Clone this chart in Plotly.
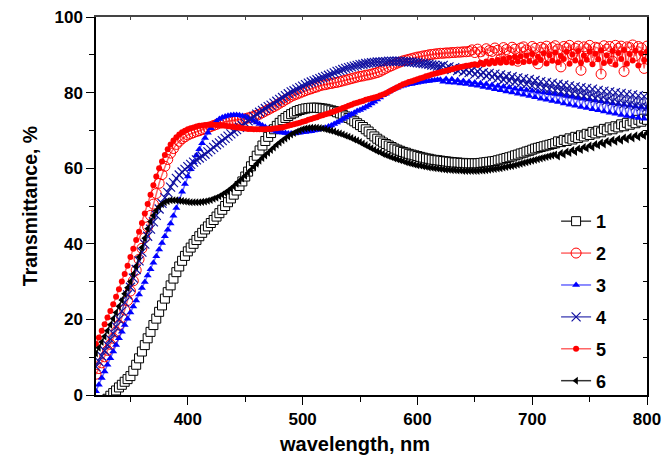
import plotly.graph_objects as go

# wavelength grid, nm (2.5 nm spacing, as in the measured spectra)
wavelength = [320 + 2.5 * i for i in range(193)]

s1 = [-4, -3.2, -2.5, -1.8, -1, -0.2, 0.5, 1.2, 2, 2.7,
      3.5, 4.2, 5, 6.4, 8, 9.7, 11.5, 13.2, 15, 16.7,
      18.5, 20.2, 22, 23.7, 25.5, 27.2, 29, 30.8, 32.5, 34,
      35.5, 36.8, 38, 39, 40, 41, 42, 42.9, 43.8, 44.6,
      45.5, 46.3, 47.2, 48.1, 49, 50, 51, 52, 53, 54.1,
      55.3, 56.5, 57.8, 59.1, 60.5, 61.9, 63.3, 64.7, 66, 67.2,
      68.3, 69.3, 70.3, 71.2, 72, 72.7, 73.3, 73.8, 74.3, 74.7,
      75.1, 75.4, 75.6, 75.8, 75.9, 76, 76, 76, 75.9, 75.8,
      75.7, 75.5, 75.3, 75.1, 74.8, 74.5, 74.1, 73.7, 73.3, 72.9,
      72.4, 71.9, 71.4, 70.9, 70.3, 69.7, 69, 68.4, 67.8, 67.3,
      66.8, 66.4, 66, 65.6, 65.2, 64.9, 64.6, 64.3, 64.1, 63.8,
      63.6, 63.4, 63.2, 63, 62.8, 62.6, 62.5, 62.3, 62.2, 62.1,
      62, 61.9, 61.8, 61.7, 61.6, 61.5, 61.5, 61.4, 61.4, 61.3,
      61.3, 61.3, 61.3, 61.3, 61.4, 61.5, 61.6, 61.7, 61.8, 61.9,
      62.1, 62.3, 62.5, 62.7, 62.9, 63.1, 63.4, 63.6, 63.9, 64.1,
      64.4, 64.6, 64.9, 65.2, 65.4, 65.6, 65.8, 66, 66.2, 66.4,
      66.6, 67.1, 66.9, 67.5, 67.2, 67.9, 67.6, 68.3, 68, 68.7,
      68.4, 69.1, 68.8, 69.6, 69.2, 69.9, 69.5, 70.4, 70, 70.8,
      70.3, 71.1, 70.8, 71.6, 71.1, 72, 71.5, 72.4, 71.9, 72.8,
      72.3, 73.1, 72.8]

s2 = [5.5, 7, 8.5, 10.1, 11.8, 13.4, 15, 16.7, 18.5, 20.5,
      22.5, 25, 27.5, 30.2, 33, 35.9, 38.8, 41.6, 44.5, 47.5,
      50.5, 53.3, 56, 58.3, 60.5, 62.3, 64, 65.2, 66.3, 67.1,
      67.8, 68.3, 68.8, 69.1, 69.4, 69.7, 69.9, 70.2, 70.4, 70.7,
      71, 71.3, 71.6, 71.9, 72.1, 72.3, 72.4, 72.5, 72.6, 72.7,
      72.8, 72.9, 73.1, 73.3, 73.5, 73.7, 74, 74.3, 74.7, 75.1,
      75.5, 75.9, 76.3, 76.7, 77.2, 77.6, 78.1, 78.5, 79, 79.3,
      79.6, 79.9, 80.2, 80.5, 80.8, 81, 81.3, 81.5, 81.8, 82,
      82.1, 82.3, 82.4, 82.6, 82.7, 82.9, 83.1, 83.3, 83.5, 83.7,
      83.9, 84.1, 84.3, 84.4, 84.6, 84.7, 84.9, 85.1, 85.3, 85.6,
      86, 86.4, 86.8, 87.1, 87.5, 87.8, 88.1, 88.4, 88.6, 88.8,
      89, 89.2, 89.4, 89.5, 89.7, 89.8, 90, 90.1, 90.2, 90.3,
      90.4, 90.4, 90.5, 90.5, 90.6, 90.6, 90.7, 90.7, 90.8, 90.8,
      90.9, 91.3, 90.6, 91.5, 90.8, 89.6, 91.6, 91.1, 90.9, 91.8,
      91.2, 88.9, 91.9, 91.4, 90.7, 92, 91.5, 88.3, 91.8, 92.1,
      91.3, 90.2, 92.2, 91.7, 87.6, 92, 91.6, 92.3, 89.4, 91.9,
      92.4, 91.5, 86.8, 92.2, 91.8, 92.5, 90.1, 91.7, 92.3, 85.9,
      92.1, 91.6, 92.5, 89.2, 92, 91.8, 84.9, 92.4, 91.5, 92.2,
      88.3, 92.5, 91.7, 92.3, 85.6, 92.1, 91.9, 92.6, 89.7, 92.2,
      91.8, 86.4, 92.3]

s3 = [1, 2.7, 4.5, 6.2, 8, 9.7, 11.5, 13.2, 15, 16.7,
      18.5, 20.2, 21.8, 23.4, 25, 26.6, 28.3, 29.9, 31.6, 33.3,
      35, 36.7, 38.5, 40.2, 42, 43.7, 45.4, 47.4, 49.5, 51.6,
      53.8, 55.8, 57.8, 59.7, 61.6, 63.4, 65, 66.6, 68, 69.4,
      70.6, 71.6, 72.4, 73, 73.4, 73.7, 73.9, 74, 74.1, 74.1,
      74, 73.8, 73.6, 73.3, 72.9, 72.5, 72.1, 71.7, 71.3, 70.9,
      70.5, 70.2, 69.9, 69.7, 69.5, 69.4, 69.3, 69.2, 69.2, 69.2,
      69.3, 69.4, 69.5, 69.6, 69.7, 69.8, 70, 70.1, 70.3, 70.5,
      70.7, 71, 71.3, 71.7, 72.1, 72.5, 73, 73.4, 73.9, 74.3,
      74.7, 75.1, 75.4, 75.8, 76.2, 76.6, 77.1, 77.6, 78.2, 78.7,
      79.3, 79.7, 80.2, 80.6, 81, 81.3, 81.6, 81.8, 82, 82.2,
      82.3, 82.5, 82.6, 82.8, 82.9, 83, 83.1, 83.2, 83.3, 83.4,
      83.4, 82.9, 83.6, 82.7, 83.5, 82.6, 83.3, 82.4, 83.1, 82.3,
      82.9, 82, 82.7, 81.8, 82.5, 81.5, 82.3, 81.2, 82, 80.9,
      81.8, 80.6, 81.6, 80.3, 81.4, 80, 81.1, 79.7, 80.9, 79.4,
      80.7, 79.1, 80.5, 78.8, 80.2, 78.4, 80, 78.1, 79.8, 77.8,
      79.6, 77.5, 79.4, 77.1, 79.1, 76.8, 78.9, 76.5, 78.6, 76.2,
      78.4, 75.9, 78.2, 75.6, 77.9, 75.3, 77.7, 75, 77.5, 74.7,
      77.2, 74.4, 77, 74.1, 76.8, 73.8, 76.6, 73.6, 76.4, 73.3,
      76.2, 73.1, 76]

s4 = [7.5, 8.9, 10.3, 11.7, 13.2, 14.7, 16.3, 18.1, 20, 22.2,
      24.5, 26.5, 28.5, 30.9, 33.2, 35.5, 37.8, 39.9, 42, 43.9,
      45.8, 47.5, 49.2, 50.7, 52.2, 53.6, 55, 56.2, 57.3, 58.2,
      59, 59.7, 60.4, 61, 61.6, 62.2, 62.7, 63.2, 63.7, 64.3,
      64.9, 65.5, 66.2, 66.7, 67.3, 67.9, 68.5, 69.1, 69.7, 70.2,
      70.8, 71.3, 71.9, 72.5, 73.1, 73.7, 74.3, 74.8, 75.3, 75.8,
      76.3, 76.7, 77.2, 77.7, 78.2, 78.7, 79.2, 79.7, 80.2, 80.5,
      80.9, 81.3, 81.7, 82.1, 82.5, 82.8, 83.1, 83.4, 83.7, 84,
      84.3, 84.6, 84.9, 85.2, 85.6, 85.8, 86.1, 86.4, 86.6, 86.8,
      87, 87.2, 87.4, 87.5, 87.7, 87.8, 87.9, 88, 88.1, 88.1,
      88.2, 88.2, 88.3, 88.3, 88.3, 88.3, 88.3, 88.2, 88.2, 88.1,
      88.1, 88, 87.9, 87.8, 87.7, 87.6, 87.5, 87.3, 87.2, 87,
      86.9, 87.2, 86.4, 86.8, 86.1, 86.6, 85.8, 86.3, 85.5, 86,
      85.3, 85.8, 84.9, 85.6, 84.7, 85.3, 84.4, 85.1, 84.1, 84.9,
      83.8, 84.7, 83.4, 84.4, 83.1, 84.2, 82.8, 83.9, 82.5, 83.7,
      82.2, 83.5, 81.8, 83.2, 81.5, 82.9, 81.2, 82.7, 80.9, 82.5,
      80.6, 82.2, 80.3, 82, 80, 81.8, 79.7, 81.5, 79.4, 81.3,
      79.1, 81.1, 78.8, 80.9, 78.5, 80.6, 78.2, 80.4, 77.9, 80.2,
      77.6, 80, 77.3, 79.8, 77, 79.6, 76.8, 79.4, 76.5, 79.2,
      76.3, 79, 76.1]

s5 = [13.5, 15.2, 17, 18.7, 20.5, 22.2, 24, 26, 28, 30,
      32, 34.2, 36.5, 38.7, 41, 43.2, 45.5, 48, 50.5, 53,
      55.5, 57.8, 60, 61.8, 63.5, 65, 66.3, 67.3, 68.2, 68.9,
      69.5, 69.9, 70.3, 70.6, 70.8, 71, 71.2, 71.3, 71.4, 71.5,
      71.5, 71.5, 71.4, 71.4, 71.3, 71.2, 71.1, 71, 70.9, 70.8,
      70.7, 70.6, 70.5, 70.4, 70.4, 70.3, 70.3, 70.3, 70.3, 70.3,
      70.4, 70.4, 70.5, 70.6, 70.7, 70.8, 71, 71.2, 71.4, 71.6,
      71.8, 72, 72.3, 72.5, 72.8, 73, 73.3, 73.5, 73.8, 74,
      74.3, 74.5, 74.8, 75, 75.3, 75.6, 75.9, 76.2, 76.5, 76.8,
      77.1, 77.3, 77.6, 77.8, 78.1, 78.3, 78.5, 78.7, 78.9, 79.2,
      79.5, 79.8, 80.2, 80.6, 81, 81.4, 81.8, 82.2, 82.5, 82.8,
      83, 83.3, 83.5, 83.8, 84, 84.3, 84.5, 84.8, 85, 85.2,
      85.4, 85.6, 85.8, 86, 86.2, 86.4, 86.6, 86.8, 86.9, 87.1,
      87.2, 87.4, 87.5, 87.3, 87.9, 87.5, 88.2, 87.6, 88.4, 87.8,
      88.6, 87.9, 88.9, 88, 89.2, 87.9, 89.4, 88.2, 89.6, 88.1,
      89.8, 88.3, 90.2, 87.9, 89.5, 88.6, 90.4, 87.7, 89.9, 88.4,
      90.6, 88, 89.7, 88.9, 90.8, 87.6, 90.1, 88.5, 91, 87.9,
      89.8, 88.7, 90.9, 87.5, 90.3, 88.8, 91.2, 87.8, 89.9, 88.3,
      91, 87.4, 90.5, 88.9, 91.3, 87.6, 90.2, 88.5, 91.1, 87.2,
      90.4, 88.6, 90.8]

s6 = [11, 12.5, 14, 15.5, 17, 18.6, 20.2, 21.8, 23.5, 25.1,
      26.8, 28.4, 30, 32, 34, 36.5, 39, 41.5, 44, 45.9,
      47.5, 48.8, 49.8, 50.5, 51, 51.3, 51.5, 51.5, 51.5, 51.4,
      51.3, 51.2, 51.1, 51, 51, 51, 51, 51.1, 51.2, 51.4,
      51.6, 51.9, 52.2, 52.6, 53, 53.5, 54, 54.6, 55.2, 55.9,
      56.6, 57.3, 58, 58.8, 59.6, 60.4, 61.2, 62, 62.7, 63.4,
      64.1, 64.8, 65.5, 66.2, 66.8, 67.4, 67.9, 68.4, 68.9, 69.3,
      69.7, 70, 70.3, 70.5, 70.6, 70.7, 70.7, 70.7, 70.6, 70.5,
      70.3, 70.1, 69.9, 69.7, 69.4, 69.2, 68.9, 68.6, 68.3, 68,
      67.6, 67.3, 66.9, 66.5, 66.1, 65.7, 65.3, 64.9, 64.5, 64.2,
      63.8, 63.5, 63.2, 62.9, 62.6, 62.4, 62.1, 61.9, 61.6, 61.4,
      61.2, 61, 60.8, 60.7, 60.5, 60.4, 60.2, 60.1, 60, 59.9,
      59.8, 59.7, 59.6, 59.6, 59.5, 59.5, 59.4, 59.4, 59.3, 59.3,
      59.3, 59.3, 59.3, 59.3, 59.4, 59.4, 59.5, 59.6, 59.7, 59.8,
      59.9, 60, 60.2, 60.3, 60.5, 60.6, 60.8, 61, 61.2, 61.4,
      61.6, 61.8, 62, 62.2, 62.4, 62.6, 62.8, 63, 63.2, 63.4,
      63.6, 63.1, 64, 63.6, 64.4, 64, 64.8, 64.3, 65.2, 64.8,
      65.6, 65.2, 66, 65.5, 66.4, 66, 66.8, 66.3, 67.2, 66.7,
      67.5, 67, 67.8, 67.3, 68.1, 67.6, 68.4, 67.9, 68.7, 68.2,
      69, 68.5, 69.3]

names = ["1", "2", "3", "4", "5", "6"]
series = [s1, s2, s3, s4, s5, s6]
x_title = "wavelength, nm"
y_title = "Transmittance, %"

styles = [
    dict(symbol="square", size=9, color="white", line=dict(color="black", width=1), lc="rgba(0,0,0,0.75)"),
    dict(symbol="circle-open", size=10, color="#FF0000", line=dict(color="#FF0000", width=1), lc="rgba(255,0,0,0.6)"),
    dict(symbol="triangle-up", size=7, color="#0000FF", line=dict(color="#0000FF", width=0), lc="rgba(0,0,255,0.6)"),
    dict(symbol="x-thin-open", size=9, color="#1010A0", line=dict(color="#1010A0", width=1.2), lc="rgba(16,16,160,0.7)"),
    dict(symbol="circle", size=6, color="#FF0000", line=dict(color="#FF0000", width=0), lc="rgba(255,0,0,0.6)"),
    dict(symbol="triangle-left", size=7, color="black", line=dict(color="black", width=0), lc="rgba(0,0,0,0.8)"),
]

fig = go.Figure()
for name, ys, st in zip(names, series, styles):
    fig.add_trace(go.Scatter(
        x=wavelength, y=ys, name=name, mode="lines+markers",
        legendgroup=name,
        line=dict(color=st["lc"], width=1.5),
        marker=dict(symbol=st["symbol"], size=st["size"], color=st["color"], line=st["line"]),
    ))

font_family = "Liberation Sans, Arial, sans-serif"

fig.update_layout(
    width=672, height=456,
    margin=dict(l=96, r=25, t=17, b=61, autoexpand=False),
    paper_bgcolor="white", plot_bgcolor="white",
    font=dict(family=font_family, color="black"),
    showlegend=True,
    legend=dict(
        x=0.835, y=0.508, xanchor="left", yanchor="top",
        bgcolor="rgba(0,0,0,0)", borderwidth=0,
        font=dict(family=font_family, size=18, color="black", weight="bold"),
        tracegroupgap=5.5, itemwidth=30,
    ),
    xaxis=dict(
        range=[320, 800], tick0=400, dtick=100, automargin=False,
        showline=True, linecolor="black", linewidth=1.5,
        ticks="outside", ticklen=8, tickwidth=1.2, tickcolor="black",
        minor=dict(dtick=50, tick0=350, ticks="outside", ticklen=5, tickwidth=1.2, tickcolor="black"),
        showgrid=False, zeroline=False,
        tickfont=dict(family=font_family, size=17, color="black", weight="bold"),
    ),
    yaxis=dict(
        range=[0, 100], tick0=0, dtick=20, automargin=False,
        showline=True, linecolor="black", linewidth=1.5,
        ticks="outside", ticklen=8, tickwidth=1.2, tickcolor="black",
        minor=dict(dtick=10, ticks="outside", ticklen=5, tickwidth=1.2, tickcolor="black"),
        showgrid=False, zeroline=False,
        tickfont=dict(family=font_family, size=17, color="black", weight="bold"),
        title=dict(text=y_title, standoff=12,
                   font=dict(family=font_family, size=19.5, color="black", weight="bold")),
    ),
    xaxis2=dict(
        range=[320, 800], overlaying="x", side="top", tick0=400, dtick=50, automargin=False,
        showline=True, linecolor="#444", linewidth=1.5,
        ticks="inside", ticklen=3, tickcolor="#444", showticklabels=False,
        showgrid=False, zeroline=False,
    ),
    yaxis2=dict(
        range=[0, 100], overlaying="y", side="right", tick0=0, dtick=10, automargin=False,
        showline=True, linecolor="black", linewidth=1.5,
        ticks="inside", ticklen=4, tickcolor="black", showticklabels=False,
        showgrid=False, zeroline=False,
    ),
    annotations=[dict(
        text=x_title, xref="paper", yref="paper", x=0.47, y=-0.13,
        xanchor="center", yanchor="middle", showarrow=False,
        font=dict(family=font_family, size=20, color="black", weight="bold"),
    )],
)

# invisible trace to activate the mirrored frame axes
fig.add_trace(go.Scatter(x=[None], y=[None], xaxis="x2", yaxis="y2", showlegend=False, hoverinfo="skip"))

fig.write_html("out.html", config={"displayModeBar": False},
               post_script="document.body.style.margin='0';")
